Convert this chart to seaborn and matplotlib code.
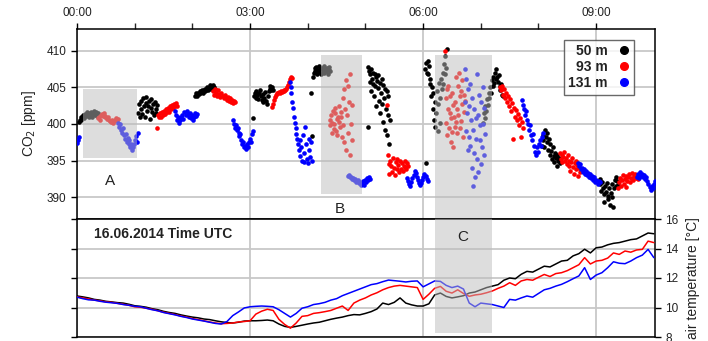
import numpy as np
import matplotlib
matplotlib.use("Agg")
import matplotlib.pyplot as plt
import seaborn as sns
from matplotlib.patches import Rectangle
from matplotlib.lines import Line2D

# -------------------------------------------
# data (hours after 00:00 UTC, CO2 in ppm, temperature in deg C)

heights = ['50 m', '93 m', '131 m']
colors = ['black', 'red', 'blue']
hour_ticks = [0, 3, 6, 9]
hour_labels = ['00:00', '03:00', '06:00', '09:00']

# each entry: (segment start [h], segment end [h], CO2 readings)
co2_50m = [
    (0.03, 0.36, [400.3, 400.6, 400.9, 400.5, 401.0, 401.2, 400.8, 401.4, 401.1, 401.6, 401.3, 400.9,
                  401.5, 401.2, 401.7, 401.0, 401.4, 401.8, 401.3, 401.6, 401.1, 401.5]),
    (1.06, 1.39, [401.5, 402.8, 400.9, 403.2, 402.0, 401.4, 403.5, 402.5, 401.0, 402.9, 403.7, 401.8,
                  402.4, 403.1, 400.7, 402.2, 403.4, 401.6, 402.7, 401.2, 403.0, 402.1, 401.5, 402.6]),
    (2.05, 2.39, [403.9, 404.2, 403.8, 404.3, 404.1, 404.5, 404.2, 404.4, 404.6, 404.3, 404.7, 404.5,
                  404.8, 404.6, 405.0, 404.7, 404.9, 405.3, 404.8, 405.1, 404.9, 405.4, 405.0, 404.8]),
    (3.05, 3.40, [400.8, 403.9, 404.3, 403.6, 404.5, 404.0, 403.4, 404.2, 404.6, 403.8, 403.3, 404.1,
                  403.0, 403.6, 404.4, 403.2, 402.8, 403.9, 404.5, 404.8, 405.2, 404.6, 405.0, 404.7]),
    (4.06, 4.39, [404.3, 398.4, 406.5, 407.0, 407.6, 407.2, 407.8, 406.9, 407.4, 408.0, 407.1, 407.5,
                  406.8, 407.7, 407.3, 407.9, 407.0, 407.5, 407.2, 407.6, 406.9, 407.4, 407.8, 407.3]),
    (5.04, 5.42, [407.8, 399.6, 407.2, 405.8, 406.9, 407.5, 404.5, 406.2, 407.0, 405.5, 403.8, 406.8,
                  405.2, 406.4, 402.5, 405.9, 404.9, 406.7, 403.2, 405.6, 401.5, 404.2, 406.1, 402.8,
                  405.3, 400.3, 403.5, 404.8, 399.2, 402.0, 404.5, 398.5, 401.2, 403.8, 397.3, 400.5]),
    (6.03, 6.41, [407.5, 408.3, 394.6, 407.0, 408.6, 406.8, 407.9, 405.5, 406.2, 403.8, 405.0, 402.0,
                  404.2, 400.5, 403.0, 399.6, 401.5, 404.5, 399.0, 402.8, 405.6, 400.2, 403.5, 406.2,
                  404.8, 407.0, 405.5, 408.2, 406.8, 409.3, 407.6, 410.2]),
    (7.04, 7.38, [400.2, 401.5, 400.8, 402.5, 401.8, 403.4, 402.6, 404.2, 403.5, 405.0, 404.3, 406.0,
                  405.2, 406.5, 405.6, 407.0, 406.2, 407.5, 406.4, 405.8, 406.7, 405.2, 404.6, 405.5,
                  404.0, 403.8]),
    (8.06, 8.37, [397.0, 397.8, 398.5, 396.8, 399.2, 398.2, 397.5, 398.8, 396.5, 397.9, 395.8, 397.2,
                  396.3, 395.2, 396.8, 395.6, 394.8, 396.0, 395.3, 394.3, 395.8, 394.9, 395.4, 394.6]),
    (9.06, 9.38, [392.5, 391.8, 390.9, 392.0, 391.2, 390.4, 389.3, 391.5, 390.7, 391.9, 390.2, 389.8,
                  391.3, 388.9, 390.6, 391.8, 390.0, 388.6, 391.2, 392.4, 391.5, 392.8, 392.2, 391.6]),
]

co2_93m = [
    (0.36, 0.71, [400.8, 401.0, 400.6, 401.2, 401.4, 401.1, 401.5, 401.3, 401.0, 400.9, 400.7, 401.0,
                  400.6, 400.4, 400.3, 400.5, 400.2, 400.4, 400.6, 400.8, 400.5, 400.7]),
    (1.39, 1.73, [399.5, 401.2, 400.9, 401.5, 401.0, 401.7, 401.3, 401.8, 401.4, 402.0, 401.6, 401.9,
                  402.2, 401.7, 402.4, 402.0, 402.6, 402.2, 402.8, 402.5, 402.9, 402.4]),
    (2.36, 2.74, [404.5, 404.0, 404.8, 404.2, 403.9, 404.6, 404.1, 403.7, 404.3, 403.8, 403.5, 404.0,
                  403.6, 403.3, 403.7, 403.2, 403.5, 403.0, 403.3, 402.9, 403.1, 403.0]),
    (3.38, 3.73, [402.3, 402.8, 403.3, 403.7, 404.0, 404.2, 404.3, 404.4, 404.3, 404.5, 404.4, 404.5,
                  404.6, 404.5, 404.7, 404.8, 405.0, 405.4, 405.8, 406.2, 406.5, 406.3]),
    (4.38, 4.77, [400.5, 399.8, 401.2, 400.2, 398.8, 401.8, 400.0, 399.3, 401.5, 402.2, 399.0, 400.7,
                  398.5, 401.0, 400.3, 402.5, 399.6, 400.9, 401.6, 398.2, 403.5, 399.8, 404.8, 397.5,
                  402.0, 406.0, 396.5, 401.2, 405.2, 398.8, 403.0, 406.8, 395.8, 400.0, 397.8, 402.6]),
    (5.37, 5.74, [402.6, 395.8, 394.5, 393.2, 395.0, 394.2, 393.5, 395.4, 394.0, 393.0, 394.8, 393.8,
                  395.2, 394.4, 393.4, 394.9, 393.9, 394.6, 393.6, 394.3, 395.0, 394.1, 393.8, 394.7,
                  394.2]),
    (6.38, 6.72, [410.0, 403.5, 400.2, 404.8, 398.5, 402.0, 405.2, 399.5, 401.5, 403.8, 397.6, 400.8,
                  404.2, 398.9, 402.6, 396.8, 401.0, 399.6, 403.0, 400.3, 406.5, 402.0, 398.8, 405.2,
                  401.2, 407.0, 399.5, 403.8, 404.5, 400.4, 406.0, 402.8, 398.2, 404.0, 401.6, 403.2]),
    (7.33, 7.73, [405.0, 404.6, 405.2, 404.0, 404.8, 403.6, 404.3, 403.0, 403.8, 402.5, 403.4, 401.8,
                  402.9, 398.0, 402.2, 401.0, 401.9, 400.5, 401.4, 399.8, 400.8, 398.2, 400.3, 399.5]),
    (8.37, 8.72, [396.0, 395.2, 395.8, 394.8, 395.5, 396.2, 394.9, 395.4, 394.5, 395.7, 394.2, 395.0,
                  393.6, 394.8, 395.3, 394.1, 393.2, 394.6, 395.0, 393.8, 394.4, 392.9, 394.0, 393.5]),
    (9.38, 9.72, [391.2, 392.0, 392.6, 391.5, 392.3, 393.0, 391.8, 392.5, 392.9, 391.4, 392.2, 392.7,
                  393.2, 392.0, 392.6, 393.3, 392.4, 392.9, 393.1, 392.6, 393.0, 392.5]),
]

co2_131m = [
    (0.00, 0.03, [397.4, 397.8, 398.2]),
    (0.71, 1.06, [400.2, 399.6, 400.0, 399.2, 398.8, 399.5, 398.5, 398.0, 398.6, 397.6, 398.1, 397.2,
                  397.8, 396.8, 397.3, 396.5, 396.9, 397.2, 397.8, 398.3, 397.6, 398.8]),
    (1.70, 2.08, [401.8, 401.2, 400.6, 401.0, 400.2, 400.5, 400.9, 401.3, 400.7, 401.6, 401.2, 401.8,
                  401.4, 401.0, 401.5, 400.8, 401.2, 400.6, 401.0, 401.5, 401.1, 401.4]),
    (2.70, 3.05, [400.6, 400.0, 399.4, 399.8, 399.2, 399.5, 398.8, 398.3, 398.6, 397.8, 397.2, 397.6,
                  396.8, 397.0, 396.6, 397.2, 396.9, 397.5, 398.0, 397.6, 398.6, 399.0]),
    (3.69, 4.07, [405.8, 405.0, 404.2, 403.0, 402.2, 401.0, 400.2, 399.5, 398.6, 398.0, 397.2, 396.5,
                  397.8, 395.6, 396.8, 395.0, 398.5, 396.0, 394.8, 399.6, 397.2, 395.2, 394.7, 398.0,
                  396.4, 395.5, 397.6, 394.9]),
    (4.70, 5.08, [392.9, 393.0, 392.7, 392.8, 392.5, 392.6, 392.3, 392.5, 392.1, 392.3, 391.9, 392.0,
                  391.6, 391.8, 392.2, 391.7, 392.4, 392.0, 392.6, 392.3, 392.8, 392.5]),
    (5.72, 6.08, [392.6, 392.2, 391.8, 391.5, 392.0, 392.6, 393.0, 393.6, 393.3, 392.8, 392.4, 391.9,
                  391.6, 391.9, 392.4, 392.8, 393.2, 392.9, 392.5, 392.2]),
    (6.72, 7.07, [407.5, 403.0, 399.0, 406.2, 401.5, 396.5, 404.8, 398.2, 402.5, 405.5, 397.0, 400.5,
                  394.0, 403.5, 391.5, 399.2, 396.0, 402.0, 392.8, 398.0, 400.8, 395.2, 406.8, 393.5,
                  401.2, 404.0, 397.8, 399.8, 394.5, 403.0, 396.8, 405.0, 400.0, 395.8, 402.2, 398.6]),
    (7.71, 8.08, [403.3, 402.6, 402.0, 401.2, 401.8, 400.5, 400.0, 399.2, 399.8, 398.5, 397.8, 398.6,
                  397.0, 396.2, 395.8, 396.8, 396.2, 397.2, 397.8, 397.0, 398.2, 398.8]),
    (8.68, 9.06, [394.6, 394.2, 394.5, 393.9, 394.0, 393.5, 393.8, 393.2, 393.6, 393.0, 393.3, 392.8,
                  393.1, 392.6, 392.9, 392.4, 392.7, 392.1, 392.4, 391.8, 392.2, 392.0]),
    (9.71, 10.05, [392.8, 393.2, 392.6, 393.4, 392.9, 393.1, 392.7, 393.0, 392.5, 392.8, 392.2, 391.8,
                   391.4, 391.0, 391.5, 391.2, 391.8, 392.2, 392.0, 392.4]),
]

# air temperature, one reading every 6 minutes from 00:00 to 10:00
temp_hours = np.round(np.arange(0, 10.01, 0.1), 1)
temp_50m = [10.78, 10.72, 10.65, 10.55, 10.5, 10.42, 10.38, 10.33, 10.3, 10.22,
            10.12, 10.08, 10.02, 9.92, 9.85, 9.74, 9.66, 9.6, 9.5, 9.42,
            9.35, 9.3, 9.22, 9.18, 9.1, 9.03, 8.98, 8.95, 9.0, 9.08,
            9.1, 9.1, 9.12, 9.15, 9.1, 8.88, 8.72, 8.65, 8.72, 8.8,
            8.88, 8.95, 9.0, 9.1, 9.2, 9.28, 9.35, 9.45, 9.52, 9.5,
            9.6, 9.72, 9.9, 10.3, 10.2, 10.35, 10.65, 10.3, 10.18, 10.1,
            10.1, 10.25, 10.85, 10.98, 10.75, 10.65, 10.72, 10.8, 10.98, 11.05,
            11.2, 11.35, 11.45, 11.55, 11.85, 12.0, 11.95, 12.25, 12.45, 12.4,
            12.6, 12.8, 12.75, 12.95, 13.15, 13.2, 13.5, 13.65, 13.95, 13.7,
            14.05, 14.1, 14.25, 14.35, 14.4, 14.5, 14.6, 14.65, 14.85, 15.05, 15.0]
temp_93m = [10.72, 10.65, 10.58, 10.5, 10.45, 10.38, 10.35, 10.28, 10.22, 10.15,
            10.05, 10.02, 9.95, 9.88, 9.78, 9.68, 9.6, 9.52, 9.42, 9.35,
            9.25, 9.18, 9.1, 9.02, 8.95, 8.9, 8.92, 8.95, 9.02, 9.05,
            9.1, 9.55, 9.75, 9.88, 9.8, 9.2, 8.85, 8.6, 8.95, 9.4,
            9.45, 9.6, 9.65, 9.72, 9.8, 9.95, 10.1, 9.8, 10.3, 10.5,
            10.65, 10.85, 11.0, 11.2, 11.35, 11.45, 11.5, 11.45, 11.4, 11.35,
            10.55, 10.9, 11.3, 11.43, 11.1, 10.98, 11.2, 10.95, 10.76, 10.85,
            10.9, 11.0, 11.12, 11.3, 11.45, 11.68, 11.5, 11.8, 11.9, 11.85,
            12.05, 12.24, 12.1, 12.3, 12.36, 12.5, 12.7, 12.9, 13.38, 12.95,
            13.15, 13.2, 13.35, 13.7, 13.6, 13.83, 13.75, 13.9, 13.94, 14.5, 14.4]
temp_131m = [10.7, 10.6, 10.52, 10.5, 10.42, 10.36, 10.32, 10.28, 10.2, 10.15,
             10.08, 10.05, 9.95, 9.85, 9.78, 9.66, 9.58, 9.5, 9.4, 9.32,
             9.22, 9.15, 9.08, 9.0, 8.92, 8.88, 9.05, 9.45, 9.7, 9.97,
             10.05, 10.08, 10.1, 10.08, 10.05, 9.85, 9.6, 9.35, 9.6, 9.95,
             10.05, 10.2, 10.26, 10.35, 10.5, 10.6, 10.8, 10.95, 11.1, 11.25,
             11.4, 11.55, 11.62, 11.75, 11.86, 11.82, 11.78, 11.73, 11.78, 11.8,
             11.4, 11.6, 11.8, 11.77, 11.5, 11.35, 11.45, 11.25, 10.3, 10.05,
             10.3, 10.25, 10.2, 10.1, 10.0, 10.55, 10.5, 10.65, 10.78, 10.7,
             10.95, 11.2, 11.3, 11.45, 11.57, 11.75, 11.95, 12.14, 12.7, 11.9,
             12.2, 12.36, 12.7, 13.1, 13.0, 12.97, 13.15, 13.38, 13.55, 13.94, 13.38]

# shaded episodes: (start h, end h), CO2 range
episodes = {
    'A': ((0.10, 1.04), (395.3, 404.8)),
    'B': ((4.23, 4.94), (390.4, 409.5)),
    'C': ((6.20, 7.20), (387.0, 409.5)),
}

# -------------------------------------------

def expand(segments):
    hours, values = [], []
    for t0, t1, vals in segments:
        hours.extend(np.linspace(t0, t1, len(vals)))
        values.extend(vals)
    return np.array(hours), np.array(values)


sns.set_style('ticks')
plt.rcParams['font.family'] = ['Liberation Sans', 'DejaVu Sans']
text_color = '#222222'
grid_color = '#c8c8c8'
shade_color = '#bcbcbc'

fig = plt.figure(figsize=(7.08, 3.41), dpi=100)
W, H = 708, 341
ax_top = fig.add_axes([77 / W, 1 - 219 / H, 578 / W, 190 / H])
ax_bot = fig.add_axes([77 / W, 1 - 337 / H, 578 / W, 118 / H])

# CO2 scatter
for series, color in zip([co2_50m, co2_93m, co2_131m], colors):
    t, v = expand(series)
    sns.scatterplot(x=t, y=v, color=color, s=11, linewidth=0, ax=ax_top, zorder=3, legend=False)

# temperature lines
for temps, color in zip([temp_50m, temp_93m, temp_131m], colors):
    sns.lineplot(x=temp_hours, y=temps, color=color, lw=1.1, ax=ax_bot, zorder=3)

# shaded episodes
for name, ((t0, t1), (c0, c1)) in episodes.items():
    ax_top.add_patch(Rectangle((t0, c0), t1 - t0, c1 - c0, facecolor=shade_color,
                               alpha=0.5, edgecolor='none', zorder=4))
t0, t1 = episodes['C'][0]
ax_bot.add_patch(Rectangle((t0, 8.3), t1 - t0, 16 - 8.3, facecolor=shade_color,
                           alpha=0.5, edgecolor='none', zorder=4))

ax_top.text(0.57, 392.2, 'A', fontsize=11, color=text_color, ha='center', va='center', zorder=5)
ax_top.text(4.56, 388.4, 'B', fontsize=11, color=text_color, ha='center', va='center', zorder=5)
ax_bot.text(6.69, 14.8, 'C', fontsize=11, color=text_color, ha='center', va='center', zorder=5)
ax_bot.text(0.03, 0.875, '16.06.2014 Time UTC', transform=ax_bot.transAxes, fontsize=10,
            fontweight='bold', color=text_color, ha='left', va='center', zorder=5)

# axes styling
for ax in (ax_top, ax_bot):
    ax.set_xlim(0, 10.02)
    ax.set_xticks(hour_ticks)
    ax.set_axisbelow(True)
    ax.grid(True, which='major', color=grid_color, lw=1.3)
    for sp in ax.spines.values():
        sp.set_visible(True)
        sp.set_color('black')
        sp.set_linewidth(1.1)
    ax.tick_params(colors='black', labelcolor=text_color, labelsize=8.5, direction='out',
                   length=4, width=1)

ax_top.set_ylim(387, 413)
ax_top.set_yticks([390, 395, 400, 405, 410])
ax_top.xaxis.tick_top()
ax_top.set_xticklabels(hour_labels)
ax_top.set_xticks([1, 2, 4, 5, 7, 8], minor=True)
ax_top.tick_params(axis='x', which='both', top=True, bottom=False, labeltop=True,
                   labelbottom=False, length=4, width=1, pad=3)
ax_top.tick_params(axis='y', right=False)
ax_top.set_ylabel('CO$_2$ [ppm]', fontsize=10, color=text_color, labelpad=6)
ax_top.set_xlabel('')

ax_bot.set_ylim(8, 16)
ax_bot.set_yticks([8, 10, 12, 14, 16])
ax_bot.tick_params(axis='x', bottom=False, top=False, labelbottom=False)
ax_bot.tick_params(axis='y', left=True, right=True, labelleft=False, labelright=True)
ax_bot.yaxis.set_label_position('right')
ax_bot.set_ylabel('air temperature [°C]', fontsize=10, color=text_color, labelpad=5)
ax_bot.set_xlabel('')

# legend with markers after the labels
handles = [Line2D([], [], ls='none', marker='o', markersize=5.5, color=c) for c in colors]
leg = ax_top.legend(handles, heights, loc='upper right', bbox_to_anchor=(0.964, 0.942),
                    borderaxespad=0, markerfirst=False, frameon=True, fancybox=False,
                    handlelength=0.8, handletextpad=0.8, labelspacing=0.15, borderpad=0.3,
                    prop={'weight': 'bold', 'size': 10})
leg.get_frame().set_edgecolor('#444444')
leg.get_frame().set_linewidth(1.0)
for txt in leg.get_texts():
    txt.set_ha('right')
    txt.set_color(text_color)
leg.set_zorder(6)

fig.savefig('out.png', dpi=100)
